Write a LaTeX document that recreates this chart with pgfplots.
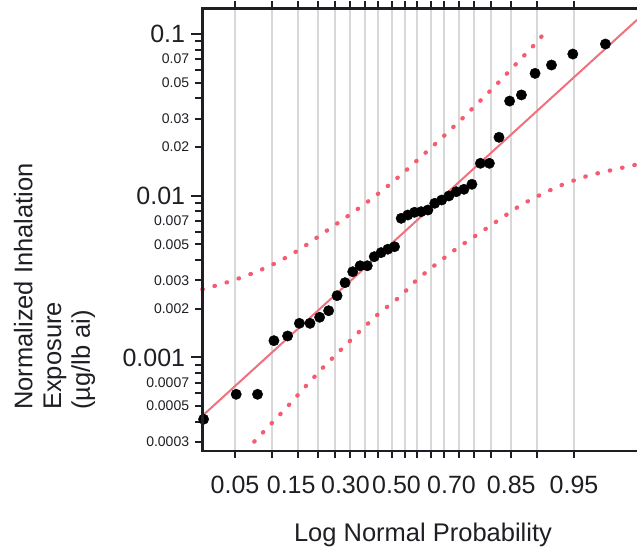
\documentclass[border=0pt]{standalone}
\usepackage{fontspec}
\setmainfont{Liberation Sans}
\usepackage{pgfplots}
\pgfplotsset{compat=1.18}
\definecolor{fitline}{RGB}{240,112,124}
\definecolor{band}{RGB}{245,92,112}
\definecolor{gridgray}{RGB}{216,216,216}
\definecolor{ink}{RGB}{30,30,36}
\newcommand{\bigf}{\fontsize{25bp}{25bp}\selectfont}
\newcommand{\smallf}{\fontsize{14bp}{14bp}\selectfont}
\begin{document}
\begin{tikzpicture}
\begin{axis}[
  scale only axis, width=434.7bp, height=442.7bp,
  xmin=-1.962, xmax=2.256,
  ymode=log, ymin=2.64e-4, ymax=0.1442,
  clip=false,
  axis line style={draw=none},
  tick align=outside,
  major tick length=7bp,
  tick style={line width=2bp, color=ink},
  xtick={-1.6449,-1.2816,-1.0364,-0.8416,-0.6745,-0.5244,-0.3853,-0.2533,-0.1257,0,
         0.1257,0.2533,0.3853,0.5244,0.6745,0.8416,1.0364,1.2816,1.6449},
  xticklabels={0.05,,\kern-13bp 0.15,,,\kern-10bp 0.30,,,,\kern-16bp 0.50,,,,\kern-14bp 0.70,,,0.85,,0.95},
  xmajorgrids,
  grid style={color=gridgray, line width=2bp},
  xticklabel style={font=\bigf, color=ink, anchor=base, inner sep=0pt},
  xticklabel shift=36bp,
  ytick={0.0003,0.0004,0.0005,0.0006,0.0007,0.0008,0.0009,
         0.002,0.003,0.004,0.005,0.006,0.007,0.008,0.009,
         0.02,0.03,0.04,0.05,0.06,0.07,0.08,0.09},
  yticklabels={0.0003,,0.0005,,0.0007,,,0.002,0.003,,0.005,,0.007,,,0.02,0.03,,0.05,,0.07,,},
  minor ytick={},
  yticklabel style={font=\smallf, color=ink, anchor=east, inner sep=0pt},
  yticklabel shift=6bp,
  extra y ticks={0.001,0.01,0.1},
  extra y tick labels={0.001,0.01,0.1},
  extra y tick style={major tick length=11bp, yticklabel style={font=\bigf}},
]
% fitted line
\addplot[fitline, line width=2bp] coordinates {(-1.962,4.35e-4) (2.256,0.1223)};
% upper confidence band
\addplot[band, line width=4.2bp, line cap=round, dash pattern=on 0.6bp off 12bp] coordinates {
(-1.962,2.633e-3) (-1.677,2.972e-3) (-1.444,3.363e-3) (-1.218,3.911e-3) (-1.004,4.707e-3)
(-0.801,5.80e-3) (-0.594,7.153e-3) (-0.390,8.854e-3) (-0.196,1.1006e-2) (-0.005,1.396e-2)
(0.177,1.779e-2) (0.361,2.275e-2) (0.539,2.911e-2) (0.720,3.781e-2) (0.895,4.887e-2)
(1.066,6.368e-2) (1.240,8.31e-2) (1.405,0.1094)
};
% lower confidence band
\addplot[band, line width=4.2bp, line cap=round, dash pattern=on 0.6bp off 12bp] coordinates {
(-1.458,3.016e-4) (-1.289,3.919e-4) (-1.121,5.085e-4) (-0.956,6.665e-4) (-0.788,8.70e-4)
(-0.609,1.1288e-3) (-0.435,1.452e-3) (-0.247,1.876e-3) (-0.044,2.376e-3) (0.124,3.045e-3)
(0.312,3.801e-3) (0.512,4.753e-3) (0.720,5.826e-3) (0.924,7.153e-3) (1.133,8.805e-3)
(1.347,1.0354e-2) (1.570,1.199e-2) (1.800,1.343e-2) (2.059,1.464e-2) (2.256,1.561e-2)
};
% observations
\addplot[only marks, mark=*, mark size=5.2bp, mark options={fill=black, draw=black}] coordinates {
(-1.9495,4.15e-4) (-1.6331,5.92e-4) (-1.4261,5.92e-4) (-1.2668,1.27e-3) (-1.1345,1.358e-3)
(-1.0201,1.626e-3) (-0.9170,1.626e-3) (-0.8236,1.772e-3) (-0.7363,1.946e-3) (-0.6542,2.41e-3)
(-0.5769,2.90e-3) (-0.5024,3.39e-3) (-0.4307,3.69e-3) (-0.3611,3.69e-3) (-0.2934,4.20e-3)
(-0.2271,4.45e-3) (-0.1614,4.67e-3) (-0.0966,4.84e-3) (-0.0321,7.25e-3) (0.0321,7.60e-3)
(0.0966,7.90e-3) (0.1614,7.97e-3) (0.2271,8.16e-3) (0.2934,8.98e-3) (0.3611,9.41e-3)
(0.4307,9.97e-3) (0.5024,1.059e-2) (0.5769,1.096e-2) (0.6542,1.177e-2) (0.7363,1.587e-2)
(0.8236,1.587e-2) (0.9170,2.298e-2) (1.0201,3.85e-2) (1.1345,4.20e-2) (1.2668,5.71e-2)
(1.4261,6.43e-2) (1.6331,7.52e-2) (1.9495,8.67e-2)
};
\end{axis}
% frame: left, top and bottom only
\draw[ink, line width=2.5bp] (0,442.7bp) -- (0,0) -- (434.7bp,0);
\draw[ink, line width=3.5bp] (-1.25bp,442.7bp) -- (434.7bp,442.7bp);
% axis titles
\node[anchor=base, inner sep=0pt, font=\fontsize{25.5bp}{25.5bp}\selectfont, color=ink]
  at (220.7bp,-90.7bp) {Log Normal Probability};
\node[rotate=90, anchor=north west, align=left, inner sep=0pt,
  font=\fontsize{25.5bp}{28.7bp}\selectfont, color=ink]
  at (-188.5bp,41bp) {Normalized Inhalation\\Exposure\\(µg/lb ai)};
\pgfresetboundingbox
\useasboundingbox (-202.3bp,-104bp) rectangle (434.7bp,451bp);
\end{tikzpicture}
\end{document}
